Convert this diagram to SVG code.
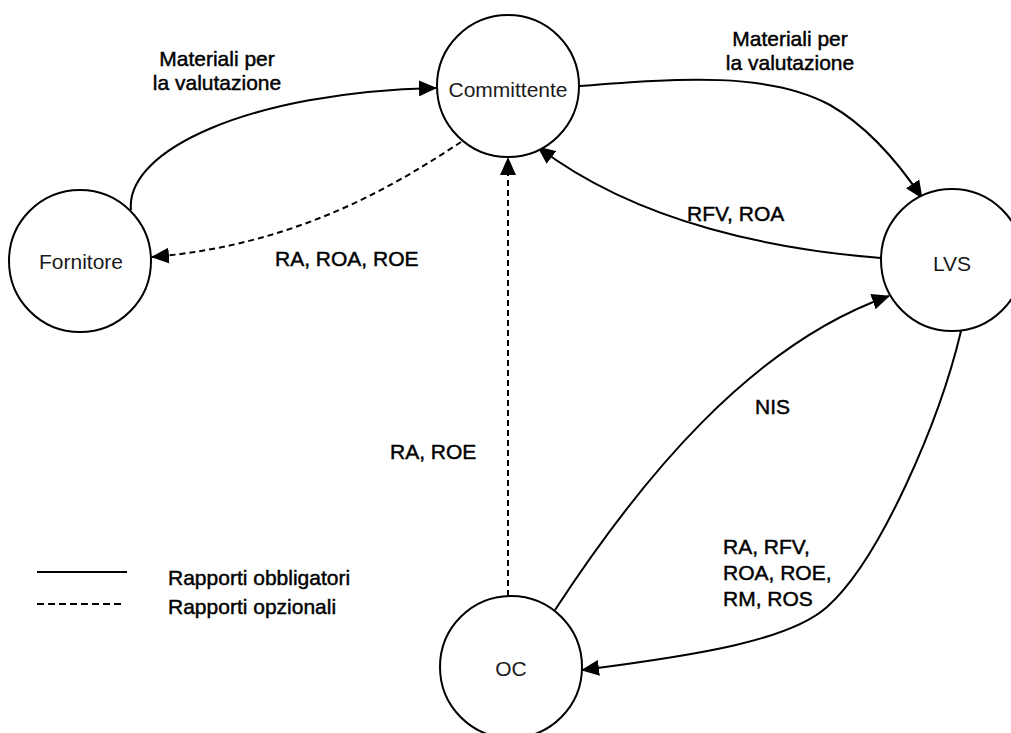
<svg xmlns="http://www.w3.org/2000/svg" width="1011" height="733" viewBox="0 0 1011 733">
<style>
.node circle{fill:#fff;stroke:#000;stroke-width:2}
.lbl{font-family:"Liberation Sans",Arial,sans-serif;font-size:21px;fill:#000;stroke:#000;stroke-width:0.45}
.nl{font-family:"Liberation Sans",Arial,sans-serif;font-size:21px;fill:#1a1a1a;text-anchor:middle}
.solid{fill:none;stroke:#000;stroke-width:2}
.dash{fill:none;stroke:#000;stroke-width:2;stroke-dasharray:6 4}
</style>
<defs>
<marker id="ah" viewBox="0 0 18 16" refX="17" refY="8" markerWidth="18" markerHeight="16" markerUnits="userSpaceOnUse" orient="auto">
<path d="M0,0 L18,8 L0,16 z" fill="#000"/>
</marker>
</defs>
<rect width="1011" height="733" fill="#fff"/>
<g id="connectors">
<path class="solid" d="M131,210 C125,150 250,92 436,88" marker-end="url(#ah)"/>
<path class="dash" d="M461,142 C400,182 300,245 152,257" marker-end="url(#ah)"/>
<path class="solid" d="M580,86 C680,78 770,72 830,105 C870,128 900,165 922,198" marker-end="url(#ah)"/>
<path class="solid" d="M881,258 C780,250 640,225 538,147" marker-end="url(#ah)"/>
<path class="solid" d="M555,610 C640,480 750,345 889,296" marker-end="url(#ah)"/>
<path class="solid" d="M961,331 C940,420 880,560 827,607 C790,640 700,655 582,670" marker-end="url(#ah)"/>
<path class="dash" d="M508,596 L508,158" stroke-width="2.4" marker-end="url(#ah)"/>
</g>
<g id="node-committente" class="node"><circle cx="508" cy="86" r="71"/><text class="nl" x="508" y="97">Committente</text></g>
<g id="node-fornitore" class="node"><circle cx="80" cy="261" r="71"/><text class="nl" x="81" y="269">Fornitore</text></g>
<g id="node-lvs" class="node"><circle cx="952" cy="260" r="71"/><text class="nl" x="952" y="271">LVS</text></g>
<g id="node-oc" class="node"><circle cx="511" cy="667" r="71"/><text class="nl" x="511" y="676">OC</text></g>
<g id="labels">
<text class="lbl" x="217" y="66" text-anchor="middle">Materiali per</text>
<text class="lbl" x="217" y="90" text-anchor="middle">la valutazione</text>
<text class="lbl" x="790" y="46" text-anchor="middle">Materiali per</text>
<text class="lbl" x="790" y="70" text-anchor="middle">la valutazione</text>
<text class="lbl" x="275" y="266">RA, ROA, ROE</text>
<text class="lbl" x="687" y="221">RFV, ROA</text>
<text class="lbl" x="755" y="414">NIS</text>
<text class="lbl" x="390" y="459">RA, ROE</text>
<text class="lbl" x="723" y="554">RA, RFV,</text>
<text class="lbl" x="723" y="580">ROA, ROE,</text>
<text class="lbl" x="723" y="606">RM, ROS</text>
</g>
<g id="legend">
<line class="solid" x1="37" y1="572" x2="127" y2="572"/>
<line x1="37" y1="604" x2="122" y2="604" stroke="#000" stroke-width="2" stroke-dasharray="7 4"/>
<text class="lbl" x="168" y="585">Rapporti obbligatori</text>
<text class="lbl" x="168" y="614">Rapporti opzionali</text>
</g>
</svg>
